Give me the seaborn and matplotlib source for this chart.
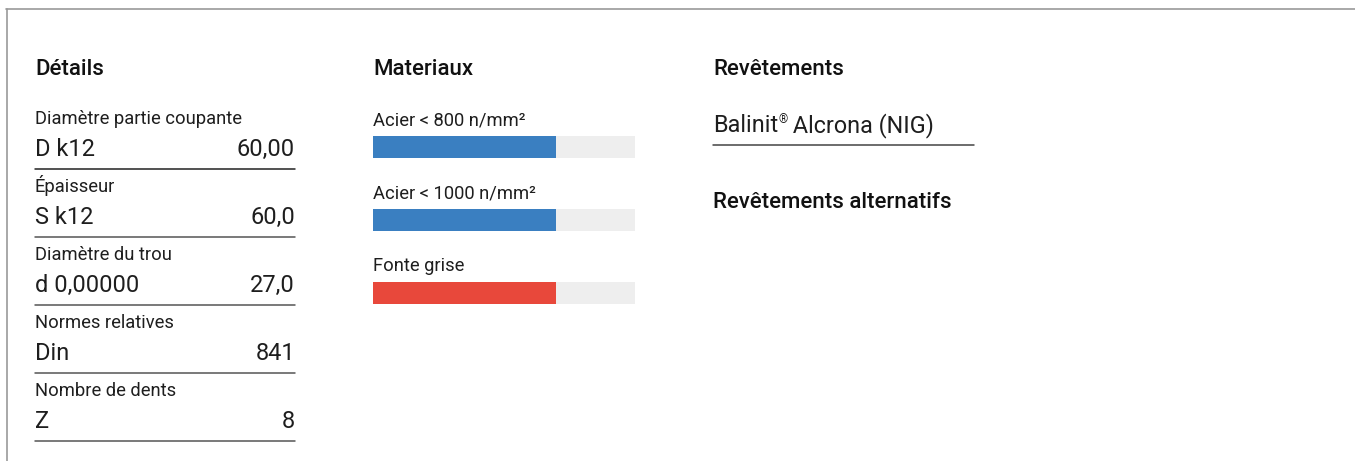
import matplotlib
matplotlib.use("Agg")
import matplotlib.pyplot as plt
from matplotlib.lines import Line2D
import seaborn as sns
import pandas as pd

# data
detail_labels = ["Diamètre partie coupante", "Épaisseur", "Diamètre du trou",
                 "Normes relatives", "Nombre de dents"]
detail_symbols = ["D k12", "S k12", "d 0,00000", "Din", "Z"]
detail_values = ["60,00", "60,0", "27,0", "841", "8"]

materials = ["Acier < 800 n/mm²", "Acier < 1000 n/mm²", "Fonte grise"]
material_scores = [70, 70, 70]
material_colors = ["#3a7fc1", "#3a7fc1", "#e8483b"]
score_max = 100

coating = ("Balinit", "®", " Alcrona (NIG)")
headings = ["Détails", "Materiaux", "Revêtements", "Revêtements alternatifs"]

W, H = 1355, 461
sns.set_style("white")
plt.rcParams["font.family"] = ["Roboto", "DejaVu Sans"]
HEAD = dict(family=["Roboto", "DejaVu Sans"], fontsize=16, fontweight="medium",
            color="#111111")
TXT = "#1e1e1e"


def fx(x):
    return x / W


def fy(y):
    return 1 - y / H


fig = plt.figure(figsize=(W / 100, H / 100), dpi=100)
fig.patch.set_facecolor("white")

# outer frame (top and left edges)
fig.add_artist(Line2D([fx(6), 1], [fy(9), fy(9)], color="#999999", lw=1.2))
fig.add_artist(Line2D([fx(7), fx(7)], [fy(9), 0], color="#999999", lw=1.2))

# headings
fig.text(fx(35), fy(75), headings[0], **HEAD)
fig.text(fx(373), fy(75), headings[1], **HEAD)
fig.text(fx(713), fy(75), headings[2], **HEAD)
fig.text(fx(713), fy(208), headings[3], **HEAD)

# details list
for i, (lab, sym, val) in enumerate(zip(detail_labels, detail_symbols, detail_values)):
    y0 = 124 + 68 * i
    fig.text(fx(35), fy(y0), lab, fontsize=13.2, color=TXT)
    fig.text(fx(35), fy(y0 + 32), sym, fontsize=17, color=TXT)
    fig.text(fx(295), fy(y0 + 32), val, fontsize=17, color=TXT, ha="right")
    fig.add_artist(Line2D([fx(35), fx(295)], [fy(y0 + 45), fy(y0 + 45)],
                          color="#222222" if i == 0 else "#555555", lw=1.1))

# materials bars
ax = fig.add_axes([fx(373), fy(329.5), fx(635) - fx(373), (329.5 - 110.5) / H])
df = pd.DataFrame({"material": materials, "score": material_scores,
                   "full": [score_max] * len(materials)})
sns.barplot(data=df, x="full", y="material", color="#eeeeee", width=0.30,
            orient="h", ax=ax, saturation=1, linewidth=0)
sns.barplot(data=df, x="score", y="material", hue="material",
            palette=material_colors, width=0.30, orient="h", ax=ax,
            saturation=1, legend=False, linewidth=0)
ax.set_xlim(0, score_max)
ax.set_ylim(len(materials) - 0.5, -0.5)
for i, m in enumerate(materials):
    ax.text(0, i - 0.30, m, fontsize=13.2, color=TXT, va="baseline", ha="left")
ax.axis("off")

# coating with superscript mark
r = fig.canvas.get_renderer()
t1 = fig.text(fx(713), fy(132), coating[0], fontsize=16.8, color=TXT)
bb = t1.get_window_extent(r)
t2 = fig.text(bb.x1 / W, fy(132) + 9 / H, coating[1], fontsize=8.5, color=TXT)
bb2 = t2.get_window_extent(r)
fig.text(bb2.x1 / W, fy(132), coating[2], fontsize=16.8, color=TXT)
fig.add_artist(Line2D([fx(713), fx(974)], [fy(145), fy(145)], color="#444444", lw=1.1))

fig.savefig("out.png", dpi=100, facecolor="white")
